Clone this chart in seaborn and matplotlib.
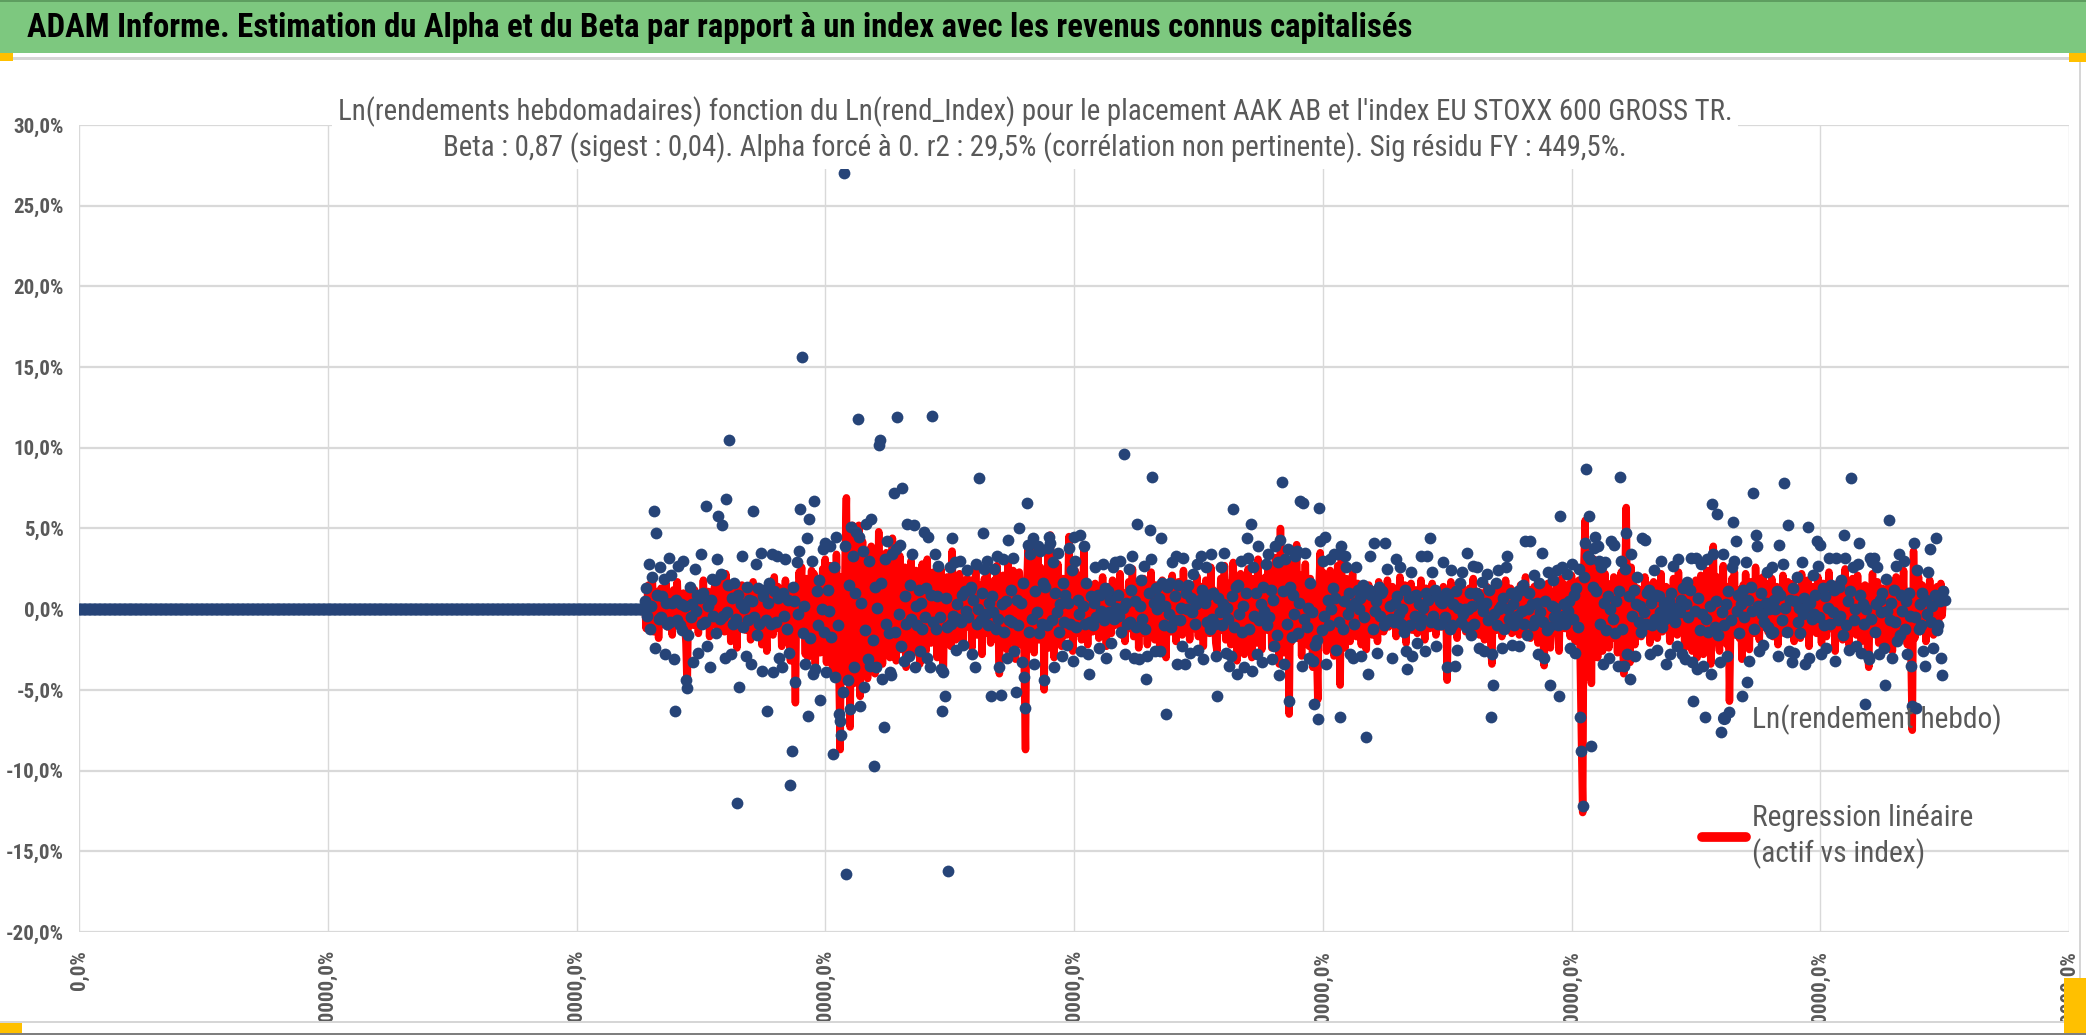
import numpy as np
import pandas as pd
import matplotlib
matplotlib.use("Agg")
import matplotlib.pyplot as plt
import seaborn as sns
from matplotlib.patches import Rectangle
from matplotlib.lines import Line2D

#_____1. DATA (weekly ln returns, in %)_____
lead_weeks = 455                      # weeks before the asset has data: plotted at 0
lead_zero = [0.0] * lead_weeks
first_week = 455

asset_pct = [
    0.5,1.3,-0.4,2.8,-1.2,0.2,2.0,6.1,-2.4,4.7,0.9,-0.6,2.6,-0.5,0.8,1.9,-2.8,0.4,-0.9,3.2,
    -0.8,2.1,0.4,-3.1,-6.3,0.6,-0.7,2.7,-1.0,0.3,-1.3,3.0,0.2,-4.4,-4.9,-1.6,1.4,-0.5,0.3,-3.3,
    2.5,-0.1,0.9,-2.7,0.7,3.4,-0.9,1.0,-0.8,6.4,-2.3,0.2,-3.6,0.6,1.9,-0.4,1.8,-1.5,3.1,5.8,
    -0.6,2.2,5.2,-0.4,-3.0,6.8,-0.2,1.5,10.5,-2.8,0.7,-0.9,1.6,-0.6,-12.0,0.9,-4.8,0.3,3.3,-1.1,
    0.1,-2.9,1.4,-0.7,0.6,-3.4,0.5,6.1,-0.5,2.8,-1.6,1.3,-0.9,3.5,-3.8,0.8,1.2,-0.7,-6.3,0.4,
    1.6,-0.9,3.4,-3.9,1.1,-0.8,3.3,0.7,-3.0,0.9,-3.6,1.0,-0.4,3.1,-1.2,0.6,-2.7,-10.9,-8.8,1.4,
    0.5,-4.5,2.9,-0.3,3.6,6.2,15.6,-1.5,0.2,-3.4,4.4,-6.6,5.6,-1.8,3.0,-4.0,6.7,-3.7,1.1,-1.0,
    1.8,-5.6,0.0,3.7,-1.4,4.1,-3.9,1.2,-0.1,3.9,-1.7,-9.0,2.6,-4.2,4.5,-1.0,-6.5,-6.9,-7.8,-5.1,
    27.0,3.9,-16.4,-4.4,1.5,-6.2,5.1,3.3,-3.6,1.0,4.8,11.8,4.5,-6.0,0.4,3.6,-4.8,-1.3,5.3,-3.1,
    3.0,-3.5,5.6,-1.9,-9.7,1.4,-3.6,0.1,10.2,10.5,1.6,-4.3,-7.3,3.1,-0.9,4.2,-1.5,-3.9,-4.1,3.4,
    7.2,-1.4,3.7,11.9,-0.3,4.0,-2.3,7.5,-3.2,0.8,-0.9,5.3,-2.9,1.5,-0.6,3.4,5.2,-3.6,0.2,-1.0,
    1.2,-2.6,0.4,-1.2,4.8,-0.5,1.3,-3.0,4.5,-3.6,0.9,12.0,-0.8,3.4,-1.2,0.8,2.7,-0.5,-3.7,-6.3,
    -3.9,-5.4,0.7,-1.1,-16.2,2.6,-0.9,4.4,-0.4,2.9,-2.5,0.3,-0.6,3.0,-0.8,0.9,-2.2,1.1,-0.1,2.4,
    -0.5,1.2,1.4,-2.8,0.6,-3.6,2.8,-0.9,0.0,8.1,-0.7,1.0,4.7,2.5,-0.3,3.0,-1.0,0.4,-5.4,0.8,
    -0.2,2.5,-1.2,3.3,-0.6,-3.6,-5.3,0.3,3.1,-1.4,0.5,-3.0,4.3,-0.7,1.2,-0.8,3.2,-2.6,-5.1,0.6,
    -1.0,5.0,0.4,-3.3,1.6,-4.2,-6.1,6.6,4.0,-1.4,3.4,-0.6,4.4,-3.4,1.1,-0.2,3.9,-1.5,3.6,-0.9,
    1.6,-4.4,1.4,-1.0,3.8,4.5,4.1,-0.7,2.9,-3.6,1.0,-0.2,3.5,-1.4,0.3,-2.9,1.6,-0.8,0.9,-2.2,
    0.4,3.8,-0.9,2.4,-3.2,4.5,3.0,-1.1,0.6,-0.3,4.6,-2.6,0.2,3.9,-0.9,1.6,-2.8,-4.0,-0.8,0.8,
    -1.0,0.4,2.6,-0.5,0.9,-2.4,0.9,-0.1,2.8,-0.7,1.3,-3.0,1.1,-0.2,0.6,-2.1,2.6,-0.6,2.9,0.1,
    0.9,-0.4,3.0,-1.4,0.1,9.6,-2.8,0.4,-0.9,2.5,-0.8,1.2,3.3,-3.0,0.5,-1.1,5.3,-3.1,0.2,1.8,
    -0.6,2.7,-1.2,-4.3,-2.9,1.0,4.9,3.1,8.2,0.4,-2.6,1.3,0.0,0.7,-2.6,4.4,1.6,-1.0,0.2,-6.5,
    1.4,-0.3,1.6,-1.1,2.9,-0.7,0.8,3.3,-3.4,1.5,-0.7,0.1,-2.3,3.2,-3.4,1.0,0.0,1.5,-2.7,0.7,
    -0.2,2.2,-0.9,0.3,2.8,-2.5,0.6,3.3,1.2,-3.1,0.4,2.6,-0.8,0.9,-1.2,3.4,-0.6,1.0,-0.9,-2.9,
    -5.4,0.7,-0.2,2.6,-1.0,0.3,3.5,-2.7,0.1,-0.6,-3.5,-2.9,0.8,6.2,-1.1,1.4,-4.0,1.5,-0.3,3.0,
    -1.4,0.2,-3.6,1.0,4.4,3.2,-1.2,5.3,-3.8,2.6,-0.4,1.0,-2.8,3.9,-0.7,0.3,-3.3,1.4,-0.1,2.8,
    -1.0,3.4,-0.5,1.2,-3.1,0.6,-2.3,3.9,-1.6,2.9,-4.1,4.3,7.9,1.1,-3.4,3.1,-0.9,3.7,-5.7,1.4,
    -1.7,0.9,-0.3,3.3,3.6,-1.5,0.4,6.7,-3.5,6.6,-0.6,3.5,-1.1,0.1,-3.0,1.6,-0.2,-3.2,-5.9,-2.2,
    -1.9,-6.8,6.3,4.2,-1.3,3.0,-0.4,4.5,-3.4,0.6,-1.0,3.1,0.0,1.3,3.4,0.7,-2.5,3.4,-0.8,-6.7,
    3.9,-1.2,0.5,3.3,2.6,-0.3,1.0,-2.8,0.2,-3.0,-0.9,0.4,2.6,1.2,0.0,0.7,-2.9,1.5,-0.5,1.0,
    -7.9,-4.0,1.2,3.3,0.9,-1.2,4.1,-0.1,0.5,-2.7,1.4,-0.4,1.0,1.1,-1.0,4.1,-0.8,2.5,-0.7,0.2,
    -0.6,-3.0,-0.8,0.4,3.1,0.8,-0.3,2.6,-0.9,0.0,-1.4,1.2,-2.6,-3.7,0.7,-1.0,2.3,-2.9,0.8,-0.4,
    0.9,-2.1,0.3,-1.0,3.3,-0.6,0.1,-2.6,1.0,3.3,0.6,4.4,-0.8,2.3,-0.4,1.2,-2.3,0.8,-0.9,0.5,
    -0.9,0.4,2.9,-0.5,1.0,-3.6,0.8,-1.2,2.4,-1.0,0.3,-3.5,1.1,-2.5,0.1,1.6,-0.8,2.3,-0.3,0.0,
    -1.1,3.5,0.0,1.0,-1.6,0.2,2.7,-0.9,1.0,2.6,0.8,-2.4,0.3,1.7,-0.1,-2.6,0.4,2.2,-0.7,1.2,
    -6.7,-2.8,-4.7,-0.3,1.6,-1.0,2.4,0.0,0.2,-2.4,0.7,-1.2,2.6,3.3,0.0,-0.6,1.0,-2.2,0.3,-1.0,
    0.8,-0.4,1.1,-2.3,1.2,-0.1,1.5,-0.9,4.2,-1.6,0.0,1.0,4.2,0.3,-1.0,2.1,-0.7,0.4,-2.8,1.6,
    -0.2,3.5,-0.8,-3.0,0.5,-1.3,2.3,-1.1,-4.7,0.2,1.8,-0.5,0.1,2.4,-1.0,-5.4,5.8,2.6,-0.4,0.3,
    -0.9,2.2,-0.1,0.5,-2.4,2.8,-0.6,0.9,-2.7,1.3,-1.1,2.5,-6.7,-8.8,-12.2,2.0,4.1,8.7,3.3,5.8,
    3.1,-8.5,1.4,3.8,4.5,1.1,3.9,3.0,-0.9,2.6,-3.4,0.4,2.9,-1.3,0.8,-3.0,0.0,4.2,-0.6,4.0,
    -1.5,0.5,-3.5,1.1,8.2,3.0,-1.2,-3.5,2.5,4.7,-2.8,0.8,-4.3,3.4,-0.4,1.2,-2.9,0.3,2.0,-0.8,
    0.2,-1.4,4.4,-0.2,4.3,-0.9,1.0,1.2,-2.8,0.4,-1.0,2.4,-0.6,0.9,-2.5,0.8,-0.2,3.0,-1.1,0.3,
    -0.6,-3.4,0.0,0.5,-2.8,1.0,-0.4,2.7,-0.8,0.1,-2.3,3.1,-0.2,0.6,-2.8,1.3,-3.1,0.3,1.7,-0.5,
    1.2,3.2,-3.3,-5.7,-0.1,3.2,-3.7,0.7,-1.3,2.8,-0.3,-3.5,-6.7,-0.6,3.1,-1.4,0.2,-4.0,6.5,3.4,
    -1.1,0.5,5.9,-1.6,-3.3,-7.6,-0.2,3.4,-1.0,0.3,-2.9,1.1,-6.4,-0.7,2.6,5.4,3.0,4.2,-0.1,0.9,
    -1.5,0.3,-5.4,1.2,-0.5,2.9,-4.5,0.6,-3.2,1.4,-0.1,7.2,-1.2,4.6,3.9,0.2,-2.6,1.0,-0.3,-2.2,
    -0.8,0.4,2.3,-1.1,0.0,-1.5,2.6,-1.4,0.6,0.0,1.1,-2.9,4.0,0.9,-0.7,2.8,7.8,0.1,-1.4,5.2,
    -2.6,0.6,-3.3,1.3,-2.7,0.5,2.0,-0.8,0.1,-1.5,2.9,-0.3,0.7,-3.4,0.2,5.1,-3.0,0.4,-0.6,2.1,
    -0.3,0.9,4.2,2.7,-0.5,4.0,-2.8,1.3,-1.0,0.8,-2.4,0.1,3.2,-0.9,1.5,-0.2,1.2,-3.2,3.2,-0.7,
    1.4,-0.4,1.8,-1.6,4.6,3.2,-1.0,0.5,-2.5,1.1,8.1,2.6,-0.7,0.0,-2.3,2.8,4.1,0.9,-2.7,0.3,
    -0.9,-5.9,0.0,-2.9,-3.1,3.2,-0.6,2.9,3.2,-1.4,0.3,2.6,-2.8,0.6,-0.2,1.0,-2.4,-4.7,1.9,-0.1,
    5.5,-0.7,0.4,-3.0,1.2,-0.8,2.7,-2.0,3.4,-1.6,0.9,-0.1,3.0,-1.2,0.5,-2.8,1.0,-0.4,-3.5,-6.0,
    4.1,-0.5,-6.1,2.4,-1.2,0.3,-1.0,1.0,-2.6,-3.5,0.6,-0.3,2.3,3.7,-0.8,0.2,-2.4,0.9,4.4,-1.3,
    -1.0,0.5,-3.0,-4.1,1.1,0.6,
]

# beta * ln(index return), the fitted line
fit_pct = [
    0.3,-1.2,0.8,1.5,-0.6,0.2,1.9,-1.4,0.7,-0.3,1.1,-1.8,0.5,1.3,-0.9,0.4,-0.2,1.6,-1.1,0.6,
    -0.5,0.9,-1.6,1.2,0.3,-0.8,1.7,-0.4,0.6,-1.3,0.2,1.0,-0.7,-2.1,-5.0,0.8,1.4,-0.6,0.3,-1.0,
    1.2,-0.4,0.7,-1.5,0.9,0.2,-0.6,1.8,-1.0,0.4,-0.3,1.1,-1.7,0.6,0.1,-0.9,1.4,-0.5,0.8,-1.2,
    0.5,1.6,-0.7,0.3,-1.4,2.2,-0.8,0.6,1.0,-2.0,0.4,-0.6,1.3,-0.2,-2.4,0.9,-1.1,0.7,1.5,-0.9,
    0.2,-1.3,1.1,-0.4,0.8,-1.9,0.6,1.7,-0.8,0.3,-1.5,1.0,-0.3,0.9,-2.2,0.5,1.2,-0.7,-2.6,0.4,
    1.3,-0.9,0.6,-1.6,2.0,-0.5,0.2,1.4,-1.2,0.7,-2.3,0.9,-0.4,1.8,-1.0,0.3,-1.7,-3.2,-2.5,1.1,
    0.6,-5.8,1.5,-0.8,2.3,1.2,2.6,-1.4,0.5,-2.8,1.9,-3.0,1.7,-0.6,2.4,-1.9,2.2,-3.4,0.9,-1.2,
    1.8,-2.7,0.4,2.5,-1.6,3.1,-3.3,1.2,-0.8,2.7,-2.1,-4.1,1.5,-2.9,3.4,-1.5,-3.8,-8.7,2.0,-4.5,
    -2.6,3.2,6.9,-3.5,1.4,-7.3,2.8,5.2,-4.6,0.9,3.7,-2.8,5.2,-5.4,2.1,4.2,-3.9,-1.2,3.6,-4.3,
    2.4,-3.1,3.9,-2.2,1.5,-4.0,2.7,-1.8,4.8,-2.5,3.2,-3.4,1.1,-2.0,3.5,-1.4,2.3,-3.0,1.8,4.4,
    -1.6,2.9,-3.2,1.4,-0.8,3.3,-2.5,1.9,-1.2,2.6,-3.6,0.7,2.2,-1.9,3.0,-2.8,1.3,-0.5,2.4,-2.2,
    1.7,-3.4,0.9,2.8,-1.5,1.2,-2.6,3.1,-0.9,1.6,-2.1,0.4,2.3,-1.8,1.0,-3.0,1.9,-0.7,2.5,-2.9,
    -3.7,1.1,-1.4,2.0,-0.6,1.5,-2.3,3.6,-1.0,0.8,-1.9,1.7,-0.5,2.2,-1.3,0.6,-2.0,1.4,-0.8,1.9,
    -1.1,0.5,1.8,-2.4,0.9,-0.4,2.6,-1.6,1.2,-0.7,1.5,-2.8,0.3,1.9,-1.0,2.3,-1.5,0.6,-2.1,1.3,
    -0.6,1.8,-1.3,2.7,-0.9,-4.0,1.4,-0.3,2.1,-1.8,0.8,-2.5,3.0,-1.1,1.6,-0.4,2.4,-1.7,-3.1,0.9,
    -1.4,2.3,0.6,-2.2,1.7,-3.3,-8.7,1.2,3.8,-2.0,2.9,-1.2,4.2,-2.7,1.5,-0.8,3.4,-1.9,2.6,-1.5,
    2.0,-5.0,1.8,-1.4,3.3,-2.4,4.6,-1.0,2.2,-3.0,1.3,-0.6,2.8,-1.7,0.7,-2.3,1.9,-0.4,1.2,-1.6,
    0.8,4.5,-1.2,1.7,-2.6,0.5,2.4,-1.5,1.0,-0.7,2.1,-1.9,0.6,4.0,-1.3,0.9,-2.2,1.5,-0.5,1.1,
    -1.4,0.7,1.6,-0.9,0.3,-1.8,1.2,-0.4,2.0,-1.1,0.6,-2.3,1.4,-0.6,0.9,-1.5,1.8,-0.2,-1.0,0.5,
    1.3,-0.8,2.2,-1.6,0.4,1.0,-2.0,0.7,-0.3,1.7,-1.2,0.5,2.5,-1.7,0.8,-0.5,1.4,-2.4,0.6,1.1,
    -0.9,1.9,-1.5,0.3,-2.2,1.2,-0.6,2.3,-1.1,0.7,-1.9,1.5,-0.4,1.0,-2.7,0.6,1.8,-1.3,0.4,-3.0,
    1.6,-0.7,0.9,-1.4,2.1,-0.3,1.1,-2.0,0.5,1.7,-1.0,0.4,-1.6,2.4,-0.8,1.3,-0.5,0.8,-1.9,1.0,
    -0.4,1.5,-1.2,0.6,2.0,-1.7,0.9,-0.6,1.4,-2.3,0.7,1.8,-1.1,0.3,-1.5,2.6,-0.9,1.2,-0.3,-2.1,
    -2.6,1.0,-0.5,1.9,-1.3,0.6,2.7,-1.9,0.4,-0.9,1.6,-2.2,1.1,2.9,-1.4,0.7,-3.2,1.8,-0.6,2.2,
    -1.7,0.5,-2.8,1.3,-0.2,2.5,-1.5,0.8,-3.0,1.9,-0.7,1.2,-2.1,3.1,-1.0,0.6,-2.5,1.6,-0.4,2.0,
    -1.3,2.7,-0.8,1.5,-2.4,0.9,-1.6,3.2,-1.1,2.2,-3.4,5.0,-1.9,1.4,-2.7,2.4,-1.2,3.0,-6.5,1.7,
    -2.0,1.2,-0.6,2.6,4.0,-1.8,0.7,2.1,-2.9,1.5,-0.9,2.8,-1.4,0.4,-2.3,1.9,-0.5,-3.6,1.3,-2.5,
    -2.2,-5.6,1.4,3.5,-1.6,2.3,-0.8,1.7,-2.6,0.9,-1.3,2.4,-0.4,1.5,-2.9,1.0,-1.8,2.7,-1.1,-4.7,
    3.6,-1.5,0.8,-2.4,1.9,-0.6,1.3,-2.0,0.5,2.2,-1.2,0.7,-1.7,1.6,-0.3,1.1,-2.2,0.9,-0.8,1.4,
    -2.5,0.6,1.5,-1.0,0.3,-1.6,1.2,-0.5,0.9,-2.0,1.7,-0.8,0.4,1.3,-1.4,0.6,-0.2,1.8,-1.1,0.5,
    -0.9,1.4,-0.4,0.8,-1.7,1.1,-0.6,2.0,-1.2,0.3,-0.8,1.5,-2.1,0.7,1.0,-0.5,1.6,-1.3,0.2,-0.7,
    1.2,-1.5,0.6,-0.3,1.8,-0.9,0.4,-1.9,1.3,-0.6,0.9,-1.2,0.2,1.6,-0.8,0.5,-1.6,1.1,-0.4,0.8,
    -1.1,0.7,1.4,-0.8,0.3,-4.4,1.0,-0.5,1.7,-1.3,0.6,-0.2,1.2,-1.8,0.4,0.9,-1.0,1.5,-0.6,0.3,
    -1.4,0.8,-0.3,1.3,-0.9,0.5,1.9,-1.2,0.2,-0.7,1.1,-1.6,0.6,1.0,-0.4,-1.9,0.7,1.4,-1.0,0.4,
    -2.0,-3.4,1.2,-0.6,0.9,-1.3,1.6,-0.2,0.5,-1.7,1.0,-0.5,1.8,-1.1,0.3,-0.8,1.3,-1.5,0.6,-0.3,
    1.1,-0.7,0.4,-1.6,1.5,-0.4,0.8,-1.2,2.0,-0.9,0.3,1.2,-1.8,0.6,-0.3,1.4,-1.0,0.7,-2.1,0.9,
    -0.5,1.3,-1.1,-3.5,0.8,-0.6,1.6,-1.4,-2.4,0.5,1.1,-0.8,0.4,1.7,-1.3,-2.6,0.9,1.9,-0.7,0.6,
    -1.2,1.5,-0.4,0.8,-1.7,2.1,-0.9,1.2,-2.0,0.6,-1.4,1.8,-3.2,-8.0,-12.6,2.8,5.5,-4.2,3.0,-2.6,
    2.4,-4.6,1.7,3.1,-2.2,1.5,-3.0,2.5,-1.2,1.9,-2.6,0.8,2.2,-1.6,1.1,-2.4,0.5,1.6,-1.0,2.0,
    -1.8,0.9,-2.7,1.4,-0.6,2.3,-1.5,-4.0,1.8,6.3,-2.0,1.1,-3.3,2.6,-0.8,1.5,-2.2,0.7,1.3,-1.1,
    0.6,-1.7,1.2,-0.5,2.0,-1.3,0.4,1.5,-2.1,0.8,-0.4,1.7,-1.0,0.3,-1.8,1.1,-0.6,2.2,-1.4,0.7,
    -0.9,1.4,-0.3,0.8,-2.0,1.2,-0.7,1.9,-1.1,0.5,-1.6,2.3,-0.5,0.9,-1.3,1.6,-2.4,0.6,1.0,-0.8,
    1.5,-1.2,-2.6,0.7,-0.4,1.8,-3.0,1.0,-1.5,2.1,-0.6,-2.8,1.3,-0.9,2.4,-1.7,0.5,-3.4,1.6,3.9,
    -1.4,0.8,2.0,-1.9,-2.6,1.1,-0.5,2.7,-1.3,0.6,-2.2,1.4,-5.7,-1.0,1.9,-0.7,2.3,-1.6,0.4,1.2,
    -1.8,0.6,-3.1,1.5,-0.8,2.2,-1.2,0.9,-2.5,1.7,-0.4,1.1,-1.5,2.6,-0.9,0.5,-1.9,1.3,-0.6,2.0,
    -1.1,0.7,1.6,-1.4,0.3,-0.8,1.9,-1.7,0.9,-0.3,1.4,-2.2,0.6,1.2,-1.0,2.1,-1.5,0.4,-0.7,1.7,
    -1.3,0.9,-0.5,1.6,-2.0,0.8,1.3,-1.1,0.4,-1.8,2.2,-0.6,1.0,-1.4,0.5,1.8,-2.3,0.7,-0.9,1.4,
    -0.6,1.2,-1.5,2.0,-0.8,0.5,-2.1,1.6,-0.3,1.1,-1.7,0.6,2.3,-1.2,0.9,-0.5,1.5,-2.6,0.8,-1.0,
    1.7,-0.7,1.1,-1.9,0.4,2.5,-1.3,0.8,-2.2,1.4,-0.6,1.9,-1.0,0.3,-1.6,2.1,-0.9,1.2,-2.0,0.6,
    -1.2,1.5,-0.4,-2.5,-3.6,1.0,-0.8,2.2,-1.5,0.6,-0.3,1.7,-2.1,0.9,-0.6,1.3,-1.8,-2.4,1.1,-0.5,
    1.4,-0.9,0.7,-2.6,1.6,-1.2,2.0,-0.6,0.9,-1.9,1.3,-0.4,2.4,-1.5,0.8,-2.2,1.1,-0.7,-3.0,-7.5,
    3.6,-1.8,1.2,-0.9,2.0,-1.4,0.6,1.5,-1.1,0.8,-2.0,1.3,-0.5,1.8,-1.2,0.4,-1.6,1.0,-0.7,1.4,
    -1.0,0.6,1.6,-0.4,0.9,1.2,
]

x_ticks = [0, 200, 400, 600, 800, 1000, 1200, 1400, 1600]
x_tick_labels = ["0,0%", "20000,0%", "40000,0%", "60000,0%", "80000,0%",
                 "100000,0%", "120000,0%", "140000,0%", "160000,0%"]
y_ticks = [-20, -15, -10, -5, 0, 5, 10, 15, 20, 25, 30]
y_tick_labels = ["-20,0%", "-15,0%", "-10,0%", "-5,0%", "0,0%", "5,0%",
                 "10,0%", "15,0%", "20,0%", "25,0%", "30,0%"]

header = ("ADAM Informe. Estimation du Alpha et du Beta par rapport à un index "
          "avec les revenus connus capitalisés")
title_l1 = ("Ln(rendements hebdomadaires) fonction du Ln(rend_Index) pour le placement "
            "AAK AB et l'index EU STOXX 600 GROSS TR.")
title_l2 = ("Beta : 0,87 (sigest : 0,04). Alpha forcé à 0. r2 : 29,5% "
            "(corrélation non pertinente). Sig résidu FY : 449,5%.")
legend_labels = ["Ln(rendement hebdo)", "Regression linéaire\n(actif vs index)"]

#_____2. FRAMES_____
pts = pd.DataFrame({
    "semaine": np.arange(lead_weeks + len(asset_pct)),
    "rend": lead_zero + asset_pct,
})
fit = pd.DataFrame({
    "semaine": first_week + np.arange(len(fit_pct)),
    "fit": fit_pct,
})

#_____3. FIGURE_____
W, H = 2086, 1035
sns.set_theme(style="white")
plt.rcParams['font.family'] = ['Roboto Condensed', 'Liberation Sans Narrow',
                               'Open Sans Condensed', 'Roboto', 'DejaVu Sans']
plt.rcParams['font.stretch'] = 'condensed'

GREY_TXT = '#595959'
GRID = '#D9D9D9'
BLUE = '#264478'

fig = plt.figure(figsize=(W / 100, H / 100), dpi=100)
fx = lambda px: px / W
fy = lambda py: 1 - py / H
renderer = fig.canvas.get_renderer()

def fit_size(s, target_px, **kw):
    # font size (pt) giving the text a width of target_px in the picture
    t = fig.text(0, 0, s, fontsize=20, **kw)
    w = t.get_window_extent(renderer).width
    t.remove()
    return 20 * target_px / w

header_fs = fit_size(header, 1385, fontweight='bold')
title_fs = fit_size(title_l1, 1390)
tick_fs = fit_size("-20,0%", 58, fontweight='bold')
legend_fs = fit_size(legend_labels[0], 250)

def band(x0, y0, x1, y1, color, z=0):
    fig.patches.append(Rectangle((fx(x0), fy(y1)), fx(x1) - fx(x0), fy(y0) - fy(y1),
                                 transform=fig.transFigure, facecolor=color,
                                 edgecolor='none', zorder=z))

# header bar
band(0, 0, W, 53, '#7DC87F')
band(0, 0, W, 2, '#5E9E60')
band(0, 57, W, 60, '#D6D6D6')
band(0, 53, 13, 61, '#FFC000', 1)
band(2069, 53, W, 62, '#FFC000', 1)
fig.text(fx(27), fy(28), header, ha='left', va='center', fontsize=header_fs,
         fontweight='bold', color='black')

ax = fig.add_axes([fx(79), fy(932), fx(2069) - fx(79), fy(125) - fy(932)])

sns.lineplot(data=fit, x="semaine", y="fit", ax=ax, color='#FF0000', lw=5.4,
             sort=False, estimator=None, solid_joinstyle='round',
             solid_capstyle='round', zorder=2)
sns.scatterplot(data=pts, x="semaine", y="rend", ax=ax, color=BLUE, s=72,
                linewidth=0, zorder=3, legend=False)

ax.set_xlim(0, 1600)
ax.set_ylim(-20, 30)
ax.set_xticks(x_ticks, labels=x_tick_labels, rotation=90, fontweight='bold')
ax.set_yticks(y_ticks, labels=y_tick_labels, fontweight='bold')
ax.tick_params(axis='both', length=0, labelcolor=GREY_TXT, labelsize=tick_fs)
ax.tick_params(axis='x', pad=13)
ax.tick_params(axis='y', pad=10.8)
ax.grid(axis='y', color=GRID, lw=1.6)
ax.grid(axis='x', color=GRID, lw=1.0)
ax.set_axisbelow(True)
for s in ax.spines.values():
    s.set_visible(False)
ax.set_xlabel("")
ax.set_ylabel("")

# legend, placed inside the plot at the lower right
fs_px = legend_fs * 100 / 72
handles = [Line2D([], [], marker='o', ls='none', color=BLUE, markersize=8.5),
           Line2D([], [], color='#FF0000', lw=7)]
leg = ax.legend(handles, legend_labels, loc='upper left',
                bbox_to_anchor=(fx(1752 - 50), fy(721 - 0.55 * fs_px)),
                bbox_transform=fig.transFigure, frameon=False, fontsize=legend_fs,
                labelcolor=GREY_TXT, handlelength=44 / fs_px, handletextpad=6 / fs_px,
                labelspacing=69 / fs_px, borderpad=0, borderaxespad=0)
leg.get_texts()[1].set_linespacing(44 / (1.2 * fs_px))

fig.text(fx(1035), fy(130), title_l1 + "\n" + title_l2, ha='center', va='center',
         fontsize=title_fs, color=GREY_TXT, linespacing=42 / (1.2 * title_fs * 100 / 72),
         zorder=6, bbox=dict(facecolor='white', edgecolor='none', pad=4))

# chart frame and clipping of the rotated x labels
band(0, 1021, W, H, 'white', 10)
band(0, 1021, 2081, 1023, '#D6D6D6', 11)
band(2079, 62, 2081, 1022, '#D6D6D6', 11)
band(0, 1033, W, H, '#7F7F7F', 11)
band(0, 1023, 22, 1033, '#FFC000', 11)
band(2064, 978, W, 1033, '#FFC000', 11)

fig.savefig("out.png", dpi=100)
